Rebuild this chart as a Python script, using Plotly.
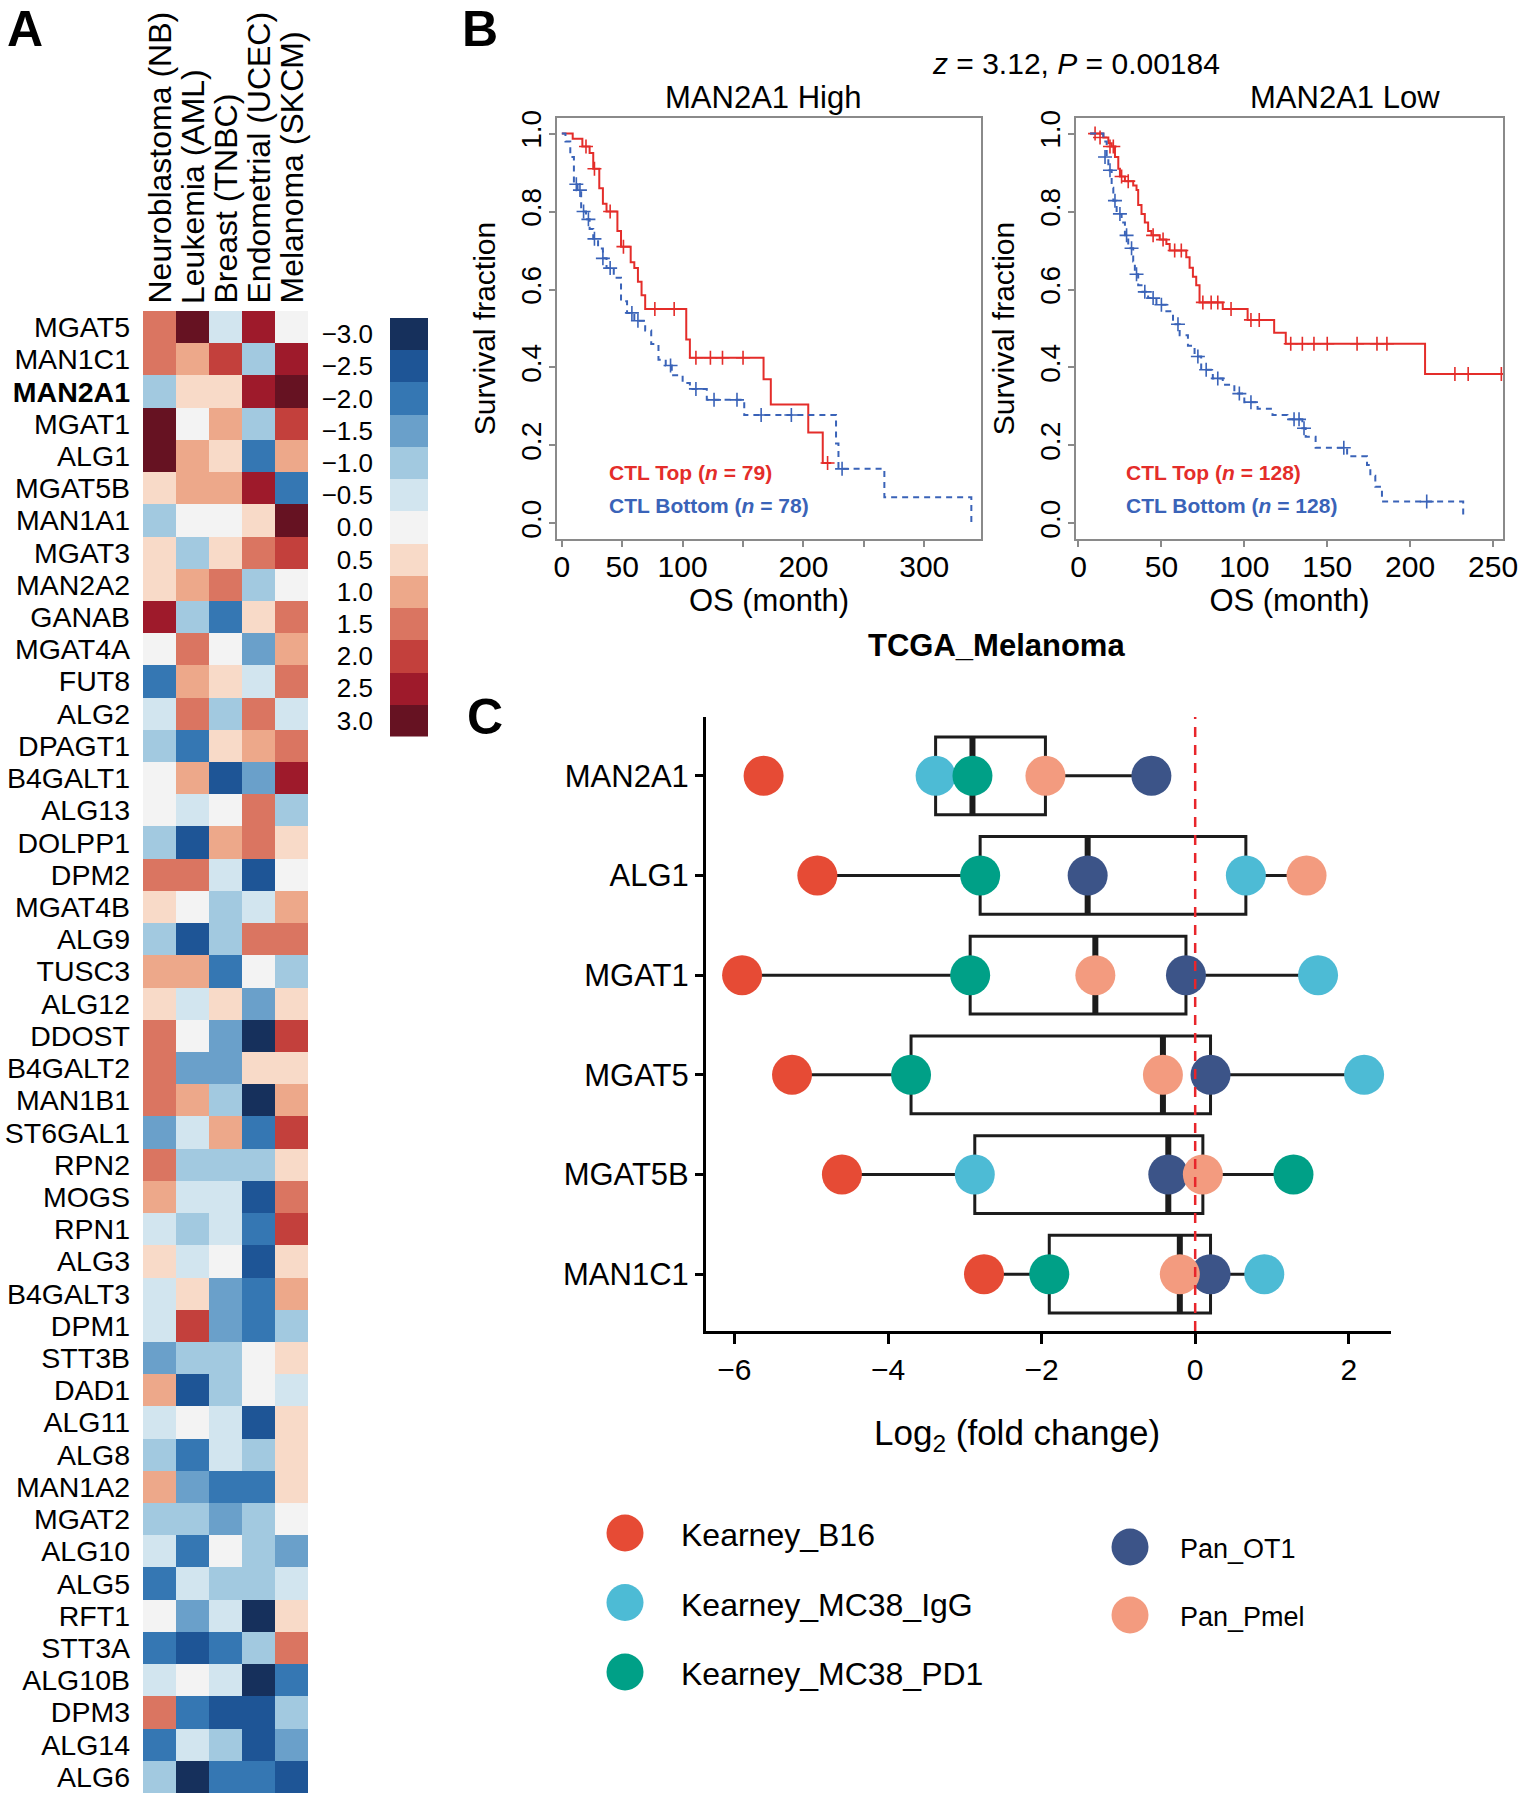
import numpy as np
import plotly.graph_objects as go

W, H = 1540, 1800
FONT = "Arial, Liberation Sans, sans-serif"
RED_KM = "#e42d2a"
BLUE_KM = "#3a63b8"

# ---------------- Panel A: heatmap data ----------------
GENES_A = ["MGAT5", "MAN1C1", "MAN2A1", "MGAT1", "ALG1", "MGAT5B", "MAN1A1", "MGAT3",
           "MAN2A2", "GANAB", "MGAT4A", "FUT8", "ALG2", "DPAGT1", "B4GALT1", "ALG13",
           "DOLPP1", "DPM2", "MGAT4B", "ALG9", "TUSC3", "ALG12", "DDOST", "B4GALT2",
           "MAN1B1", "ST6GAL1", "RPN2", "MOGS", "RPN1", "ALG3", "B4GALT3", "DPM1",
           "STT3B", "DAD1", "ALG11", "ALG8", "MAN1A2", "MGAT2", "ALG10", "ALG5",
           "RFT1", "STT3A", "ALG10B", "DPM3", "ALG14", "ALG6"]
CANCERS = ["Neuroblastoma (NB)", "Leukemia (AML)", "Breast (TNBC)",
           "Endometrial (UCEC)", "Melanoma (SKCM)"]

nb = [1.5, 1.5, -1.0, 3.0, 3.0, 0.5, -1.0, 0.5, 0.5, 2.5, 0, -2.0, -0.5, -1.0, 0, 0,
      -1.0, 1.5, 0.5, -1.0, 1.0, 0.5, 1.5, 1.5, 1.5, -1.5, 1.5, 1.0, -0.5, 0.5, -0.5, -0.5,
      -1.5, 1.0, -0.5, -1.0, 1.0, -1.0, -0.5, -2.0, 0, -2.0, -0.5, 1.5, -2.0, -1.0]
aml = [3.0, 1.0, 0.5, 0, 1.0, 1.0, 0, -1.0, 1.0, -1.0, 1.5, 1.0, 1.5, -2.0, 1.0, -0.5,
       -2.5, 1.5, 0, -2.5, 1.0, -0.5, 0, -1.5, 1.0, -0.5, -1.0, -0.5, -1.0, -0.5, 0.5, 2.0,
       -1.0, -2.5, 0, -2.0, -1.5, -1.0, -2.0, -0.5, -1.5, -2.5, 0, -2.0, -0.5, -3.0]
tnbc = [-0.5, 2.0, 0.5, 1.0, 0.5, 1.0, 0, 0.5, 1.5, -2.0, 0, 0.5, -1.0, 0.5, -2.5, 0,
        1.0, -0.5, -1.0, -1.0, -2.0, 0.5, -1.5, -1.5, -1.0, 1.0, -1.0, -0.5, -0.5, 0, -1.5, -1.5,
        -1.0, -1.0, -0.5, -0.5, -2.0, -1.5, 0, -1.0, -0.5, -2.0, -0.5, -2.5, -1.0, -2.0]
ucec = [2.5, -1.0, 2.5, -1.0, -2.0, 2.5, 0.5, 1.5, -1.0, 0.5, -1.5, -0.5, 1.5, 1.0, -1.5, 1.5,
        1.5, -2.5, -0.5, 1.5, 0, -1.5, -3.0, 0.5, -3.0, -2.0, -1.0, -2.5, -2.0, -2.5, -2.0, -2.0,
        0, 0, -2.5, -1.0, -2.0, -1.0, -1.0, -1.0, -3.0, -1.0, -3.0, -2.5, -2.5, -2.0]
skcm = [0, 2.5, 3.0, 2.0, 1.0, -2.0, 3.0, 2.0, 0, 1.5, 1.0, 1.5, -0.5, 1.5, 2.5, -1.0,
        0.5, 0, 1.0, 1.5, -1.0, 0.5, 2.0, 0.5, 1.0, 2.0, 0.5, 1.5, 2.0, 0.5, 1.0, -1.0,
        0.5, -0.5, 0.5, 0.5, 0.5, 0, -1.5, -0.5, 0.5, 1.5, -2.0, -1.0, -1.5, -2.5]

CB_LEVELS = [-3.0, -2.5, -2.0, -1.5, -1.0, -0.5, 0.0, 0.5, 1.0, 1.5, 2.0, 2.5, 3.0]
CB_LABELS = ["\u22123.0", "\u22122.5", "\u22122.0", "\u22121.5", "\u22121.0", "\u22120.5",
             "0.0", "0.5", "1.0", "1.5", "2.0", "2.5", "3.0"]
CB_COLORS = ["#16305c", "#1e5596", "#3577b3", "#6aa0ca", "#a2c9e0", "#d2e5ef", "#f3f3f3",
             "#f8dac8", "#eda88a", "#da7561", "#c3403c", "#9e1a2b", "#661222"]

# ---------------- Panel B: Kaplan-Meier curves ----------------
high_top_t = [0, 9, 17, 23, 26, 31, 34, 37, 46, 49, 57, 60, 63, 66, 69, 103, 106, 167, 173, 204, 216, 223]
high_top_s = [1.0, 0.987, 0.967, 0.95, 0.91, 0.86, 0.82, 0.8, 0.75, 0.71, 0.67, 0.655, 0.62, 0.585,
              0.55, 0.472, 0.425, 0.37, 0.305, 0.233, 0.155, 0.155]
high_top_cens_t = [20, 27, 40, 51, 77, 93, 111, 123, 133, 150, 220]
high_top_cens_s = [0.967, 0.91, 0.8, 0.71, 0.55, 0.55, 0.425, 0.425, 0.425, 0.425, 0.155]

high_bot_t = [0, 3, 7, 10, 13, 16, 20, 23, 26, 30, 34, 37, 43, 49, 54, 60, 69, 74, 80, 86, 91,
              100, 106, 120, 151, 227, 229, 267, 339]
high_bot_s = [1.0, 0.98, 0.94, 0.87, 0.855, 0.8, 0.78, 0.755, 0.73, 0.705, 0.68, 0.655, 0.63, 0.57,
              0.54, 0.52, 0.495, 0.46, 0.42, 0.405, 0.38, 0.36, 0.345, 0.317, 0.278, 0.205, 0.14,
              0.067, 0.0]
high_bot_cens_t = [12, 15, 18, 22, 27, 34, 40, 58, 63, 90, 111, 126, 145, 165, 190, 232]
high_bot_cens_s = [0.87, 0.855, 0.8, 0.78, 0.73, 0.68, 0.655, 0.54, 0.52, 0.405, 0.345, 0.317,
                   0.317, 0.278, 0.278, 0.14]

low_top_t = [7, 15, 18, 20, 22, 24, 25, 28, 33, 35, 36, 38, 40, 42, 44, 49, 53, 55, 65, 67, 69,
             71, 73, 87, 102, 118, 125, 209, 256]
low_top_s = [1.0, 0.99, 0.975, 0.967, 0.94, 0.91, 0.89, 0.878, 0.867, 0.855, 0.817, 0.794, 0.772,
             0.75, 0.739, 0.728, 0.717, 0.7, 0.683, 0.656, 0.633, 0.611, 0.567, 0.55, 0.522, 0.489,
             0.461, 0.383, 0.383]
low_top_cens_t = [10, 13, 19, 21, 26, 30, 45, 51, 58, 62, 75, 80, 84, 92, 104, 109, 128, 135,
                  142, 150, 168, 180, 186, 227, 235, 255]
low_top_cens_s = [1.0, 0.99, 0.967, 0.967, 0.89, 0.878, 0.739, 0.728, 0.7, 0.7, 0.567, 0.567,
                  0.567, 0.55, 0.522, 0.522, 0.461, 0.461, 0.461, 0.461, 0.461, 0.461, 0.461,
                  0.383, 0.383, 0.383]

low_bot_t = [7, 15, 17, 18, 20, 21, 23, 26, 28, 30, 33, 34, 36, 38, 42, 47, 53, 57, 61, 66, 70,
             74, 81, 87, 94, 100, 108, 117, 126, 135, 137, 143, 162, 174, 176, 179, 183, 232]
low_bot_s = [1.0, 0.98, 0.94, 0.906, 0.861, 0.828, 0.794, 0.772, 0.739, 0.706, 0.672, 0.639,
             0.611, 0.594, 0.578, 0.561, 0.544, 0.511, 0.483, 0.456, 0.428, 0.394, 0.372, 0.356,
             0.333, 0.311, 0.294, 0.278, 0.267, 0.244, 0.222, 0.194, 0.172, 0.15, 0.122, 0.094,
             0.056, 0.017]
low_bot_cens_t = [16, 19, 22, 25, 29, 32, 35, 40, 45, 50, 60, 72, 77, 84, 97, 104, 130, 133,
                  136, 160, 210]
low_bot_cens_s = [0.94, 0.906, 0.828, 0.794, 0.739, 0.706, 0.639, 0.594, 0.578, 0.561, 0.511,
                  0.428, 0.394, 0.372, 0.333, 0.311, 0.267, 0.267, 0.244, 0.194, 0.056]

# ---------------- Panel C: log2 fold change ----------------
GENES_C = ["MAN2A1", "ALG1", "MGAT1", "MGAT5", "MGAT5B", "MAN1C1"]
DATASETS = ["Kearney_B16", "Kearney_MC38_IgG", "Kearney_MC38_PD1", "Pan_OT1", "Pan_Pmel"]
DS_COLORS = ["#e64b35", "#4dbbd5", "#00a087", "#3c5488", "#f39b7f"]
kearney_b16 = [-5.62, -4.92, -5.9, -5.25, -4.6, -2.75]
kearney_mc38_igg = [-3.38, 0.66, 1.6, 2.2, -2.87, 0.9]
kearney_mc38_pd1 = [-2.9, -2.8, -2.93, -3.7, 1.28, -1.9]
pan_ot1 = [-0.57, -1.4, -0.12, 0.2, -0.35, 0.2]
pan_pmel = [-1.95, 1.45, -1.3, -0.42, 0.1, -0.2]
FC_VALUES = [kearney_b16, kearney_mc38_igg, kearney_mc38_pd1, pan_ot1, pan_pmel]


def dom_x(a, b):
    return [a / W, b / W]


def dom_y(top, bottom):
    return [1 - bottom / H, 1 - top / H]


def px(x, y):
    return x / W, 1 - y / H


fig = go.Figure()

# ---- A: heatmap
n = len(CB_LEVELS)
cs = []
for i, c in enumerate(CB_COLORS):
    cs.append([i / n, c])
    cs.append([(i + 1) / n, c])
zmin, zmax = CB_LEVELS[0] - 0.25, CB_LEVELS[-1] + 0.25

z = np.array([nb, aml, tnbc, ucec, skcm]).T
fig.add_trace(go.Heatmap(z=z, x=CANCERS, y=GENES_A, colorscale=cs, zmin=zmin, zmax=zmax,
                         showscale=False, xaxis="x", yaxis="y", hoverinfo="skip"))
fig.add_trace(go.Heatmap(z=[[v] for v in CB_LEVELS], x=[0], y=CB_LEVELS, colorscale=cs,
                         zmin=zmin, zmax=zmax, showscale=False, xaxis="x2", yaxis="y2",
                         hoverinfo="skip"))

# ---- B: survival curves
km_sets = [
    ("x3", "y3", high_top_t, high_top_s, high_top_cens_t, high_top_cens_s, RED_KM, "solid"),
    ("x3", "y3", high_bot_t, high_bot_s, high_bot_cens_t, high_bot_cens_s, BLUE_KM, "6px,5px"),
    ("x4", "y4", low_top_t, low_top_s, low_top_cens_t, low_top_cens_s, RED_KM, "solid"),
    ("x4", "y4", low_bot_t, low_bot_s, low_bot_cens_t, low_bot_cens_s, BLUE_KM, "6px,5px"),
]
for xa, ya, t, s, ct, cs_, col, dash in km_sets:
    fig.add_trace(go.Scatter(x=t, y=s, mode="lines", line=dict(color=col, width=2, dash=dash, shape="hv"),
                             xaxis=xa, yaxis=ya, showlegend=False, hoverinfo="skip"))
    fig.add_trace(go.Scatter(x=ct, y=cs_, mode="markers",
                             marker=dict(symbol="cross-thin", size=10, line=dict(color=col, width=1.6)),
                             xaxis=xa, yaxis=ya, showlegend=False, hoverinfo="skip"))

# ---- C: box plot of fold changes
vals = np.array(FC_VALUES)  # datasets x genes
q1, med, q3, lf, uf = [], [], [], [], []
for g in range(len(GENES_C)):
    v = np.sort(vals[:, g])
    a, m, b = np.percentile(v, [25, 50, 75])
    iqr = b - a
    q1.append(a); med.append(m); q3.append(b)
    lf.append(v[v >= a - 1.5 * iqr].min())
    uf.append(v[v <= b + 1.5 * iqr].max())

BOX_W = 0.78
fig.add_trace(go.Box(y=list(range(len(GENES_C))), q1=q1, median=med, q3=q3, lowerfence=lf,
                     upperfence=uf, orientation="h", width=BOX_W, whiskerwidth=0, boxpoints=False,
                     fillcolor="rgba(0,0,0,0)", line=dict(color="#1c1c1c", width=3),
                     xaxis="x5", yaxis="y5", showlegend=False, hoverinfo="skip"))
mx, my = [], []
for g, m in enumerate(med):
    mx += [m, m, None]
    my += [g - BOX_W / 2, g + BOX_W / 2, None]
fig.add_trace(go.Scatter(x=mx, y=my, mode="lines", line=dict(color="#1c1c1c", width=6),
                         xaxis="x5", yaxis="y5", showlegend=False, hoverinfo="skip"))
for name, col, v in zip(DATASETS, DS_COLORS, FC_VALUES):
    fig.add_trace(go.Scatter(x=v, y=list(range(len(GENES_C))), mode="markers", name=name,
                             marker=dict(size=40, color=col), xaxis="x5", yaxis="y5",
                             showlegend=False, hoverinfo="skip"))

# manual legend for panel C (large dots)
for i, (name, col) in enumerate(zip(DATASETS, DS_COLORS)):
    col_i = 0 if name.startswith("Kearney") else 1
    row_i = i if col_i == 0 else i - 3
    lx = 625 if col_i == 0 else 1130
    ly = (1533 + 69.5 * row_i) if col_i == 0 else (1547 + 68 * row_i)
    fig.add_trace(go.Scatter(x=[lx], y=[ly], mode="markers", marker=dict(size=37, color=col),
                             xaxis="x6", yaxis="y6", showlegend=False, hoverinfo="skip"))
    fig.add_annotation(x=(lx + 54 if col_i == 0 else lx + 48) / W, y=1 - (ly + 2) / H,
                       xref="paper", yref="paper", text=name, showarrow=False, xanchor="left",
                       yanchor="middle", font=dict(size=32 if col_i == 0 else 27))

axis_common = dict(showgrid=False, zeroline=False, automargin=False)
fig.update_layout(
    template="none",
    width=W, height=H, margin=dict(l=0, r=0, t=0, b=0, autoexpand=False),
    paper_bgcolor="white", plot_bgcolor="white",
    font=dict(family=FONT, color="black", size=24),
    showlegend=False,
    xaxis=dict(domain=dom_x(143, 308), showticklabels=False, ticks="", showline=False,
               anchor="y", **axis_common),
    yaxis=dict(domain=dom_y(311, 1793), autorange="reversed", tickfont=dict(size=28.5),
               tickvals=GENES_A,
               ticktext=["<b>%s</b>" % g if g == "MAN2A1" else g for g in GENES_A],
               ticks="", showline=False, anchor="x", ticklabelstandoff=12, **axis_common),
    xaxis2=dict(domain=dom_x(390, 428), showticklabels=False, ticks="", showline=False,
                anchor="y2", **axis_common),
    yaxis2=dict(domain=dom_y(318, 318 + 13 * 32.2), autorange="reversed", tickfont=dict(size=26),
                tickvals=CB_LEVELS, ticktext=CB_LABELS,
                ticks="", showline=False, anchor="x2", ticklabelstandoff=16, **axis_common),
)

# column headers of the heatmap, rotated, one per column
col_w = (308 - 143) / len(CANCERS)
for i, cname in enumerate(CANCERS):
    cx = 143 + col_w * (i + 0.5)
    fig.add_annotation(x=cx / W, y=1 - 306 / H, xref="paper", yref="paper", text=cname,
                       textangle=-90, showarrow=False, xanchor="center", yanchor="bottom",
                       font=dict(size=32))

km_grey = "#8a8a8a"
km_x = dict(showline=True, mirror=True, linecolor=km_grey, linewidth=1.5, ticks="outside",
            ticklen=6, tickcolor=km_grey, tickwidth=1.5, tickfont=dict(size=30),
            ticklabelstandoff=-6,
            minor=dict(ticks="outside", ticklen=6, tickcolor=km_grey, tickwidth=1.5, dtick=50, tick0=0),
            title=dict(text="OS (month)", font=dict(size=31), standoff=4), **axis_common)
km_y = dict(showline=True, mirror=True, linecolor=km_grey, linewidth=1.5, ticks="outside",
            ticklen=6, tickcolor=km_grey, tickwidth=1.5, tickfont=dict(size=28), tickangle=-90,
            ticklabelstandoff=-3,
            range=[-0.04, 1.04], tickvals=[0, 0.2, 0.4, 0.6, 0.8, 1.0],
            ticktext=["0.0", "0.2", "0.4", "0.6", "0.8", "1.0"],
            title=dict(text="Survival fraction", font=dict(size=30), standoff=12), **axis_common)
fig.update_layout(
    xaxis3=dict(domain=dom_x(557, 981), range=[-4, 347], anchor="y3",
                tickvals=[0, 50, 100, 200, 300], **km_x),
    yaxis3=dict(domain=dom_y(118, 539), anchor="x3", **km_y),
    xaxis4=dict(domain=dom_x(1076, 1503), range=[-1.5, 256], anchor="y4",
                tickvals=[0, 50, 100, 150, 200, 250], **km_x),
    yaxis4=dict(domain=dom_y(118, 539), anchor="x4", **km_y),
    xaxis5=dict(domain=dom_x(706, 1391), range=[-6.37, 2.55], anchor="y5",
                tickvals=[-6, -4, -2, 0, 2], showline=True, linecolor="black", linewidth=3,
                ticks="outside", ticklen=10, tickwidth=3, tickcolor="black", tickfont=dict(size=30),
                **axis_common),
    yaxis5=dict(domain=dom_y(717, 1331), range=[5.57, -0.59], anchor="x5",
                tickvals=list(range(len(GENES_C))), ticktext=GENES_C, showline=True,
                linecolor="black", linewidth=3, ticks="outside", ticklen=8, tickwidth=3,
                tickcolor="black", tickfont=dict(size=31), **axis_common),
    xaxis6=dict(domain=dom_x(560, 1440), range=[560, 1440], visible=False, anchor="y6"),
    yaxis6=dict(domain=dom_y(1490, 1720), range=[1720, 1490], visible=False, anchor="x6"),
)

fig.add_shape(type="line", x0=0, x1=0, xref="x5", y0=0, y1=1, yref="y5 domain",
              line=dict(color="#e8252b", width=2.5, dash="10px,8px"), layer="above")


# ---- text annotations
def note(x, y, text, size, xanchor="center", yanchor="middle", color="black"):
    xx, yy = px(x, y)
    fig.add_annotation(x=xx, y=yy, xref="paper", yref="paper", text=text, showarrow=False,
                       xanchor=xanchor, yanchor=yanchor, borderpad=0,
                       font=dict(size=size, color=color))


note(6, 0, "<b>A</b>", 50, xanchor="left", yanchor="top")
note(461, 0, "<b>B</b>", 50, xanchor="left", yanchor="top")
note(466, 688, "<b>C</b>", 50, xanchor="left", yanchor="top")
note(1076, 63, "<i>z</i> = 3.12, <i>P</i> = 0.00184", 30)
note(763, 98, "MAN2A1 High", 31)
note(1345, 98, "MAN2A1 Low", 31)
note(996, 645, "<b>TCGA_Melanoma</b>", 31)
note(1017, 1435, "Log<sub>2</sub> (fold change)", 35)
note(608, 472, "<b>CTL Top (<i>n</i> = 79)</b>", 21, xanchor="left", color=RED_KM)
note(608, 505, "<b>CTL Bottom (<i>n</i> = 78)</b>", 21, xanchor="left", color=BLUE_KM)
note(1125, 472, "<b>CTL Top (<i>n</i> = 128)</b>", 21, xanchor="left", color=RED_KM)
note(1125, 505, "<b>CTL Bottom (<i>n</i> = 128)</b>", 21, xanchor="left", color=BLUE_KM)

fig.write_html("out.html", config={"displayModeBar": False},
               post_script="document.body.style.margin='0';")
